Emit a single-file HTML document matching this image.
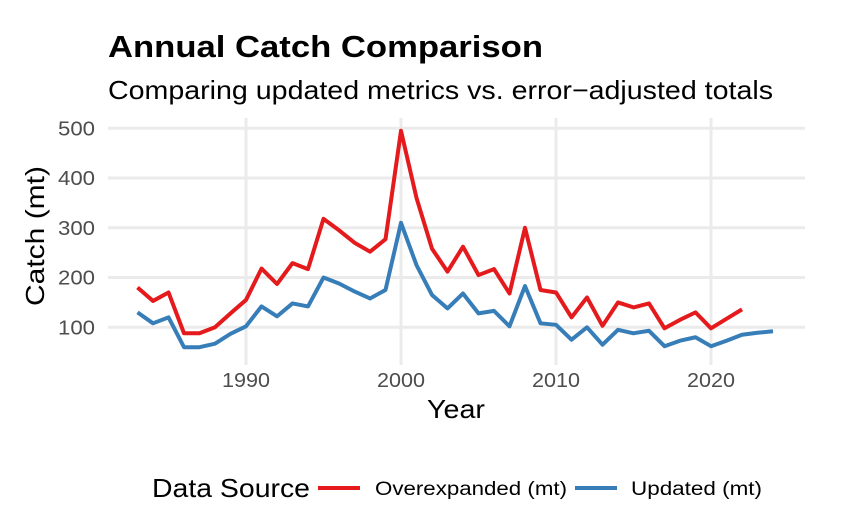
<!DOCTYPE html>
<html><head><meta charset="utf-8"><style>
body{margin:0;background:#fff;}
svg{display:block;font-family:"Liberation Sans",Arial,sans-serif;}
</style></head><body>
<svg id="c" width="851" height="515" viewBox="0 0 851 515">
<text x="108" y="57" font-size="31" font-weight="bold" fill="#000" textLength="435" lengthAdjust="spacingAndGlyphs">Annual Catch Comparison</text>
<text x="108" y="99" font-size="26" fill="#000" textLength="665" lengthAdjust="spacingAndGlyphs">Comparing updated metrics vs. error−adjusted totals</text>
<g id="grid"></g><g id="series"></g><g id="axes"></g>
<text x="456" y="418" font-size="26" text-anchor="middle" fill="#000" textLength="58" lengthAdjust="spacingAndGlyphs">Year</text>
<text transform="translate(44,236) rotate(-90)" font-size="26" text-anchor="middle" fill="#000" textLength="140" lengthAdjust="spacingAndGlyphs">Catch (mt)</text>
<g>
<text x="152" y="497" font-size="26" fill="#000" textLength="158" lengthAdjust="spacingAndGlyphs">Data Source</text>
<line x1="318" y1="488" x2="360" y2="488" stroke="#e41a1c" stroke-width="4"/>
<text x="375" y="495" font-size="19" fill="#000" textLength="192" lengthAdjust="spacingAndGlyphs">Overexpanded (mt)</text>
<line x1="575" y1="488" x2="617" y2="488" stroke="#377eb8" stroke-width="4"/>
<text x="631" y="495" font-size="19" fill="#000" textLength="131" lengthAdjust="spacingAndGlyphs">Updated (mt)</text>
</g>
</svg>
<script>
const yearsRed=[1983,1984,1985,1986,1987,1988,1989,1990,1991,1992,1993,1994,1995,1996,1997,1998,1999,2000,2001,2002,2003,2004,2005,2006,2007,2008,2009,2010,2011,2012,2013,2014,2015,2016,2017,2018,2019,2020,2021,2022];
const overexpanded=[180,153,170,88,88,100,128,155,218,187,229,217,318,295,270,252,277,495,360,258,212,262,205,217,168,300,175,170,120,160,103,150,140,148,98,115,130,98,117,136];
const yearsBlue=[1983,1984,1985,1986,1987,1988,1989,1990,1991,1992,1993,1994,1995,1996,1997,1998,1999,2000,2001,2002,2003,2004,2005,2006,2007,2008,2009,2010,2011,2012,2013,2014,2015,2016,2017,2018,2019,2020,2021,2022,2023,2024];
const updated=[130,108,120,60,60,67,87,102,142,122,148,142,200,188,172,158,175,310,225,165,138,168,128,133,102,183,108,105,75,100,65,95,88,93,62,73,80,62,73,85,89,92];
const xTicks=[1990,2000,2010,2020];
const yTicks=[100,200,300,400,500];
const NS="http://www.w3.org/2000/svg";
const x=v=>246+(v-1990)*15.5;
const y=v=>327.3-(v-100)*0.4975;
const L=108,R=805,T=118,B=365;
const grid=document.getElementById('grid'),ser=document.getElementById('series'),ax=document.getElementById('axes');
function mk(tag,attrs,parent){const e=document.createElementNS(NS,tag);for(const k in attrs)e.setAttribute(k,attrs[k]);parent.appendChild(e);return e;}
yTicks.forEach(t=>{
  const g=mk('line',{x1:L,x2:R,y1:y(t),y2:y(t),stroke:'#ebebeb','stroke-width':3},grid);
  
  
  const tx=mk('text',{x:95,y:y(t)+7,'font-size':20,'text-anchor':'end',fill:'#4d4d4d',textLength:37,lengthAdjust:'spacingAndGlyphs'},ax);
  tx.textContent=t;
  
  
});
xTicks.forEach(t=>{
  const g=mk('line',{x1:x(t),x2:x(t),y1:T,y2:B,stroke:'#ebebeb','stroke-width':3},grid);
  
  
  const tx=mk('text',{x:x(t),y:387,'font-size':20,'text-anchor':'middle',fill:'#4d4d4d',textLength:48,lengthAdjust:'spacingAndGlyphs'},ax);
  tx.textContent=t;
  
  
});
function line(xs,vs,col,name){
  const p=mk('polyline',{points:xs.map((v,i)=>x(v)+','+y(vs[i])).join(' '),fill:'none',stroke:col,'stroke-width':4,'stroke-linejoin':'round'},ser);
  
  
}
line(yearsRed,overexpanded,'#e41a1c','overexpanded-line');
line(yearsBlue,updated,'#377eb8','updated-line');
</script>
</body></html>
